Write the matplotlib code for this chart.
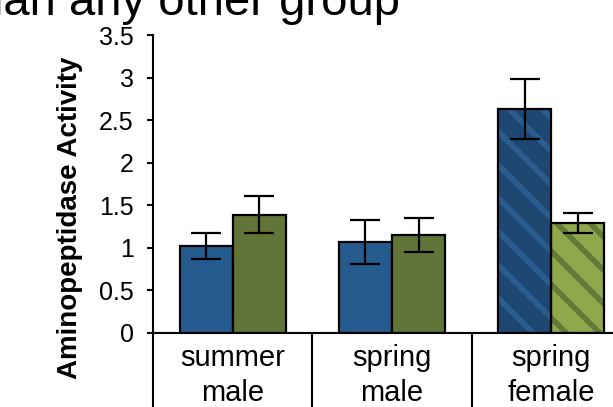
import matplotlib
matplotlib.use("Agg")
import matplotlib.pyplot as plt

groups = ["summer\nmale", "spring\nmale", "spring\nfemale"]
blue_vals = [1.02, 1.07, 2.63]
blue_err = [0.15, 0.26, 0.35]
green_vals = [1.39, 1.15, 1.29]
green_err = [0.22, 0.20, 0.115]
hatched = [False, False, True]
yticks = [0, 0.5, 1, 1.5, 2, 2.5, 3, 3.5]
ytick_labels = ["0", "0.5", "1", "1.5", "2", "2.5", "3", "3.5"]

plt.rcParams['font.family'] = ['Liberation Sans', 'DejaVu Sans']
plt.rcParams['hatch.linewidth'] = 4.0

W, H = 613, 407
fig = plt.figure(figsize=(W / 100, H / 100), dpi=100)
left, right, y0, ytop = 153, 631, 333, 35
ax = fig.add_axes([left / W, 1 - y0 / H, (right - left) / W, (y0 - ytop) / H])
ax.set_xlim(0, 3)
ax.set_ylim(0, 3.5)

blue_plain, blue_dark, blue_stripe = "#255B8E", "#1E4872", "#2A5D8F"
green_plain, green_light, green_stripe = "#627538", "#8FA84C", "#637A38"

bw = 1 / 3
for i in range(len(groups)):
    xb = i + 0.5 - bw / 2
    xg = i + 0.5 + bw / 2
    if hatched[i]:
        ax.bar(xb, blue_vals[i], bw, color=blue_dark, edgecolor=blue_stripe, hatch='\\', linewidth=0, zorder=2)
        ax.bar(xg, green_vals[i], bw, color=green_light, edgecolor=green_stripe, hatch='\\', linewidth=0, zorder=2)
        ax.bar(xb, blue_vals[i], bw, facecolor='none', edgecolor='black', linewidth=1.6, zorder=3)
        ax.bar(xg, green_vals[i], bw, facecolor='none', edgecolor='black', linewidth=1.6, zorder=3)
    else:
        ax.bar(xb, blue_vals[i], bw, color=blue_plain, edgecolor='black', linewidth=1.6, zorder=3)
        ax.bar(xg, green_vals[i], bw, color=green_plain, edgecolor='black', linewidth=1.6, zorder=3)
    ax.errorbar(xb, blue_vals[i], yerr=blue_err[i], fmt='none', ecolor='black', elinewidth=1.6, capsize=11, capthick=1.6, zorder=4)
    ax.errorbar(xg, green_vals[i], yerr=green_err[i], fmt='none', ecolor='black', elinewidth=1.6, capsize=11, capthick=1.6, zorder=4)

for s in ['top', 'right']:
    ax.spines[s].set_visible(False)
ax.spines['left'].set_linewidth(1.5)
ax.spines['bottom'].set_linewidth(1.5)
ax.spines['left'].set_zorder(5)
ax.spines['bottom'].set_zorder(5)

ax.set_yticks(yticks)
ax.set_yticklabels(ytick_labels, fontsize=18)
ax.tick_params(axis='y', direction='out', length=4, width=1.5, pad=10)

ax.set_xticks([0, 1, 2, 3])
ax.set_xticklabels([])
ax.tick_params(axis='x', which='major', direction='out', length=60, width=1.5)
ax.set_xticks([0.5, 1.5, 2.5], minor=True)
ax.set_xticklabels(groups, minor=True, fontsize=21, linespacing=1.33)
ax.tick_params(axis='x', which='minor', length=0, pad=8)

fig.text(70 / W, 1 - 218 / H, "Aminopeptidase Activity", rotation=90, ha='center', va='center',
         fontsize=20, fontweight='bold')
fig.text(400 / W, 1 - 15 / H, "than any other group", ha='right', va='baseline', fontsize=34)

fig.savefig("out.png", dpi=100)
